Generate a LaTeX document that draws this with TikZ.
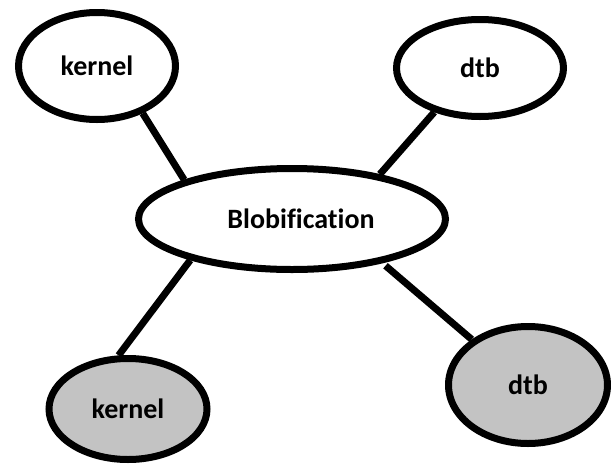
\documentclass[tikz,border=0pt]{standalone}
\usepackage{fontspec}
\setmainfont{Carlito}[Ligatures=NoCommon]
\usetikzlibrary{shapes.geometric}
\definecolor{partgray}{RGB}{195,195,195}

\begin{document}
\begin{tikzpicture}[x=1pt,y=-1pt,
        part/.style={ellipse, draw=black, line width=7pt, inner sep=0pt,
            font=\bfseries\fontsize{28}{34}\selectfont},
        link/.style={line width=7pt, color=black}]
        \useasboundingbox (0,0) rectangle (611,464);

        \node[part, minimum width=157pt, minimum height=107pt] (kernelTop) at (97,66) {kernel};
        \node[part, minimum width=167pt, minimum height=97pt] (dtbTop) at (480,68) {dtb};
        \node[part, minimum width=307pt, minimum height=101pt] (blob) at (292,219) {\hspace*{18pt}Blobification};
        \node[part, fill=partgray, minimum width=158pt, minimum height=101pt] (kernelBot) at (128,409) {kernel};
        \node[part, fill=partgray, minimum width=159pt, minimum height=117pt] (dtbBot) at (528,385) {dtb};

        \draw[link] (kernelTop.-46) -- (blob.160);
        \draw[link] (dtbTop.224) -- (blob.27);
        \draw[link] (blob.202) -- (kernelBot.100);
        \draw[link, shorten <=4pt] (blob.-26) -- (dtbBot.141);

    \end{tikzpicture}
\end{document}
